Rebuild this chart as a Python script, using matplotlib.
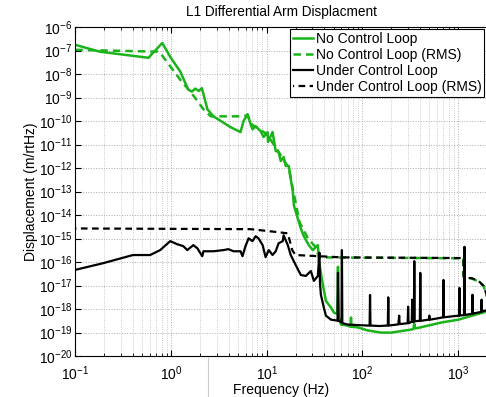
import numpy as np
import matplotlib.pyplot as plt
from matplotlib.lines import Line2D

plt.rcParams['font.family'] = ['Liberation Sans', 'DejaVu Sans']
plt.rcParams['mathtext.fontset'] = 'custom'
plt.rcParams['mathtext.rm'] = 'Liberation Sans'

GREEN = '#1ab31a'

# No control loop: amplitude spectral density (log10 of m/rtHz)
f_open = [0.1, 0.18, 0.58, 0.81, 0.98, 1.25, 1.51, 1.65, 1.79, 1.95, 2.1, 2.4, 2.77,
          4.18, 5.32, 5.72, 6.3, 6.78, 7.1, 7.65, 8.63, 9.27, 10.2, 10.3, 11.5, 12.4,
          13.3, 14.0, 15.0, 15.8, 17.0, 17.8, 18.7, 19.2, 21.1, 22.7, 24.4, 27.5, 30.3,
          34.2, 35.1, 38.6, 41.5, 46.9, 50.4, 54.5, 55.5, 56.5, 59.6, 70.0, 75.1, 75.9,
          76.7, 89.9, 114, 157, 200, 324, 340, 348, 356, 383, 668, 1007, 1480, 2000]
a_open = [-6.76, -7.05, -7.31, -6.68, -7.27, -7.90, -8.66, -8.75, -8.62, -8.72, -8.60,
          -9.50, -9.80, -10.26, -10.47, -10.0, -9.71, -10.13, -10.35, -10.22, -10.43,
          -10.68, -10.47, -10.89, -10.47, -11.27, -11.32, -11.70, -11.53, -11.91, -11.91,
          -12.46, -13.0, -13.59, -14.14, -14.57, -14.90, -15.28, -15.49, -15.28, -15.96,
          -16.97, -17.65, -17.94, -18.15, -18.2, -16.2, -18.3, -18.66, -18.7, -18.75,
          -18.36, -18.75, -18.78, -18.91, -19.0, -19.0, -18.87, -18.85, -18.62, -18.82,
          -18.8, -18.57, -18.45, -18.25, -18.1]

# No control loop: cumulative RMS
f_open_rms = [0.1, 0.72, 0.77, 1.31, 1.59, 2.18, 2.46, 2.6, 5.6, 6.3, 7.0, 10.0, 13.0,
              17.0, 19.0, 22.0, 27.0, 33.0, 35.0, 1135, 1140, 1221, 1378, 1633, 1843, 2000]
a_open_rms = [-6.97, -7.05, -7.1, -8.36, -8.74, -9.5, -9.71, -9.8, -9.8, -9.75, -10.15,
              -10.55, -11.25, -12.0, -13.0, -14.3, -15.0, -15.4, -15.8, -15.84, -16.62,
              -16.7, -16.7, -16.82, -17.02, -17.45]

# Under control loop: amplitude spectral density
f_ctrl = [0.1, 0.194, 0.40, 0.605, 0.77, 0.98, 1.16, 1.34, 1.48, 1.71, 1.88, 2.12, 2.18,
          2.77, 3.53, 3.98, 4.49, 5.32, 5.58, 6.0, 6.46, 7.1, 7.65, 8.2, 9.06, 9.73, 10.5,
          11.5, 12.4, 13.3, 14.7, 15.0, 16.6, 17.8, 20.1, 22.7, 25.6, 28.9, 31.1, 34.2,
          35.5, 36.0, 36.8, 39.5, 41.5, 46.9, 54.9, 55.5, 56.1, 60.4, 61.0, 61.6, 70.6,
          114, 118.8, 120, 121.2, 150, 184.1, 186, 187.9, 237, 242, 244.5, 297, 300, 303,
          324, 327.7, 331, 334.3, 344.5, 348, 351.5, 383, 398, 402, 406, 488, 495, 500,
          505, 600, 695, 702, 709, 900, 1020, 1030, 1040, 1151, 1163, 1175, 1398, 1412,
          1426, 1740, 1757, 1775, 2000]
a_ctrl = [-16.33, -16.05, -15.70, -15.70, -15.49, -15.11, -15.24, -15.32, -15.49, -15.28,
          -15.41, -15.75, -15.54, -15.54, -15.49, -15.45, -15.54, -15.54, -15.75, -15.32,
          -14.99, -15.11, -14.90, -14.99, -15.28, -15.79, -15.49, -15.70, -15.54, -15.20,
          -15.11, -14.86, -15.28, -15.70, -16.13, -16.55, -16.59, -16.38, -16.80, -16.59,
          -15.6, -16.9, -17.39, -17.94, -18.28, -18.45, -18.49, -16.46, -18.5, -18.55,
          -15.49, -18.6, -18.66, -18.70, -18.70, -17.40, -18.70, -18.72, -18.70, -17.50,
          -18.70, -18.65, -18.28, -18.64, -18.6, -17.9, -18.6, -18.55, -18.55, -17.6,
          -18.55, -18.53, -15.96, -18.52, -18.5, -18.5, -16.46, -18.5, -18.45, -18.45,
          -18.28, -18.45, -18.4, -18.35, -16.76, -18.35, -18.3, -18.28, -17.1, -18.27,
          -18.26, -15.35, -18.25, -18.2, -17.39, -18.19, -18.12, -17.6, -18.1, -18.05]

# Under control loop: cumulative RMS
f_ctrl_rms = [0.1, 6.8, 13.3, 16.6, 18.5, 20.0, 35.0, 61.0, 1135, 1140, 1221, 1378, 1633,
              1843, 1983, 2000]
a_ctrl_rms = [-14.57, -14.60, -14.73, -14.78, -15.5, -15.7, -15.75, -15.8, -15.83, -16.62,
              -16.68, -16.68, -16.80, -17.01, -17.39, -17.5]

fig = plt.figure(figsize=(4.86, 3.97), dpi=100)
ax = fig.add_axes([0.155, 0.103, 0.847, 0.829])

ax.loglog(f_open, 10.0 ** np.array(a_open), color=GREEN, lw=1.8, label='No Control Loop')
ax.loglog(f_open_rms, 10.0 ** np.array(a_open_rms), color=GREEN, lw=1.8, ls=(0, (3, 2)),
          label='No Control Loop (RMS)')
ax.loglog(f_ctrl, 10.0 ** np.array(a_ctrl), color='black', lw=1.6, label='Under Control Loop')
ax.loglog(f_ctrl_rms, 10.0 ** np.array(a_ctrl_rms), color='black', lw=1.6, ls=(2.5, (3, 2)),
          label='Under Control Loop (RMS)')

ax.set_xlim(0.1, 2000)
ax.set_ylim(1e-20, 1e-6)
ax.set_yticks([10.0 ** k for k in range(-20, -5)])
ax.grid(True, which='major', color='#aaaaaa', ls=':', lw=0.7)
ax.grid(True, which='minor', color='#bbbbbb', ls=':', lw=0.6)
ax.tick_params(which='both', direction='in', top=True, right=False)
ax.tick_params(which='major', labelsize=10, length=4)
ax.tick_params(axis='x', which='major', pad=6.2)
ax.tick_params(axis='y', which='major', pad=2)
ax.tick_params(which='minor', length=2)
ax.spines['right'].set_visible(False)

ax.set_title('L1 Differential Arm Displacment', fontsize=9.8, pad=8)
ax.set_xlabel('Frequency (Hz)', fontsize=10, labelpad=0)
ax.set_ylabel('Displacement (m/rtHz)', fontsize=10)
ax.yaxis.set_label_coords(-0.09, 0.5)

leg = ax.legend(loc='upper right', bbox_to_anchor=(0.993, 0.994), borderaxespad=0,
                fontsize=10, frameon=True, fancybox=False, framealpha=1,
                edgecolor='black', borderpad=0.2, labelspacing=0.15,
                handlelength=1.5, handletextpad=0.15)
leg.get_frame().set_linewidth(0.8)

fig.add_artist(Line2D([207.7 / 486, 207.7 / 486], [0, 0.102], color='#cccccc', lw=0.8))

fig.savefig('out.png', dpi=100)
